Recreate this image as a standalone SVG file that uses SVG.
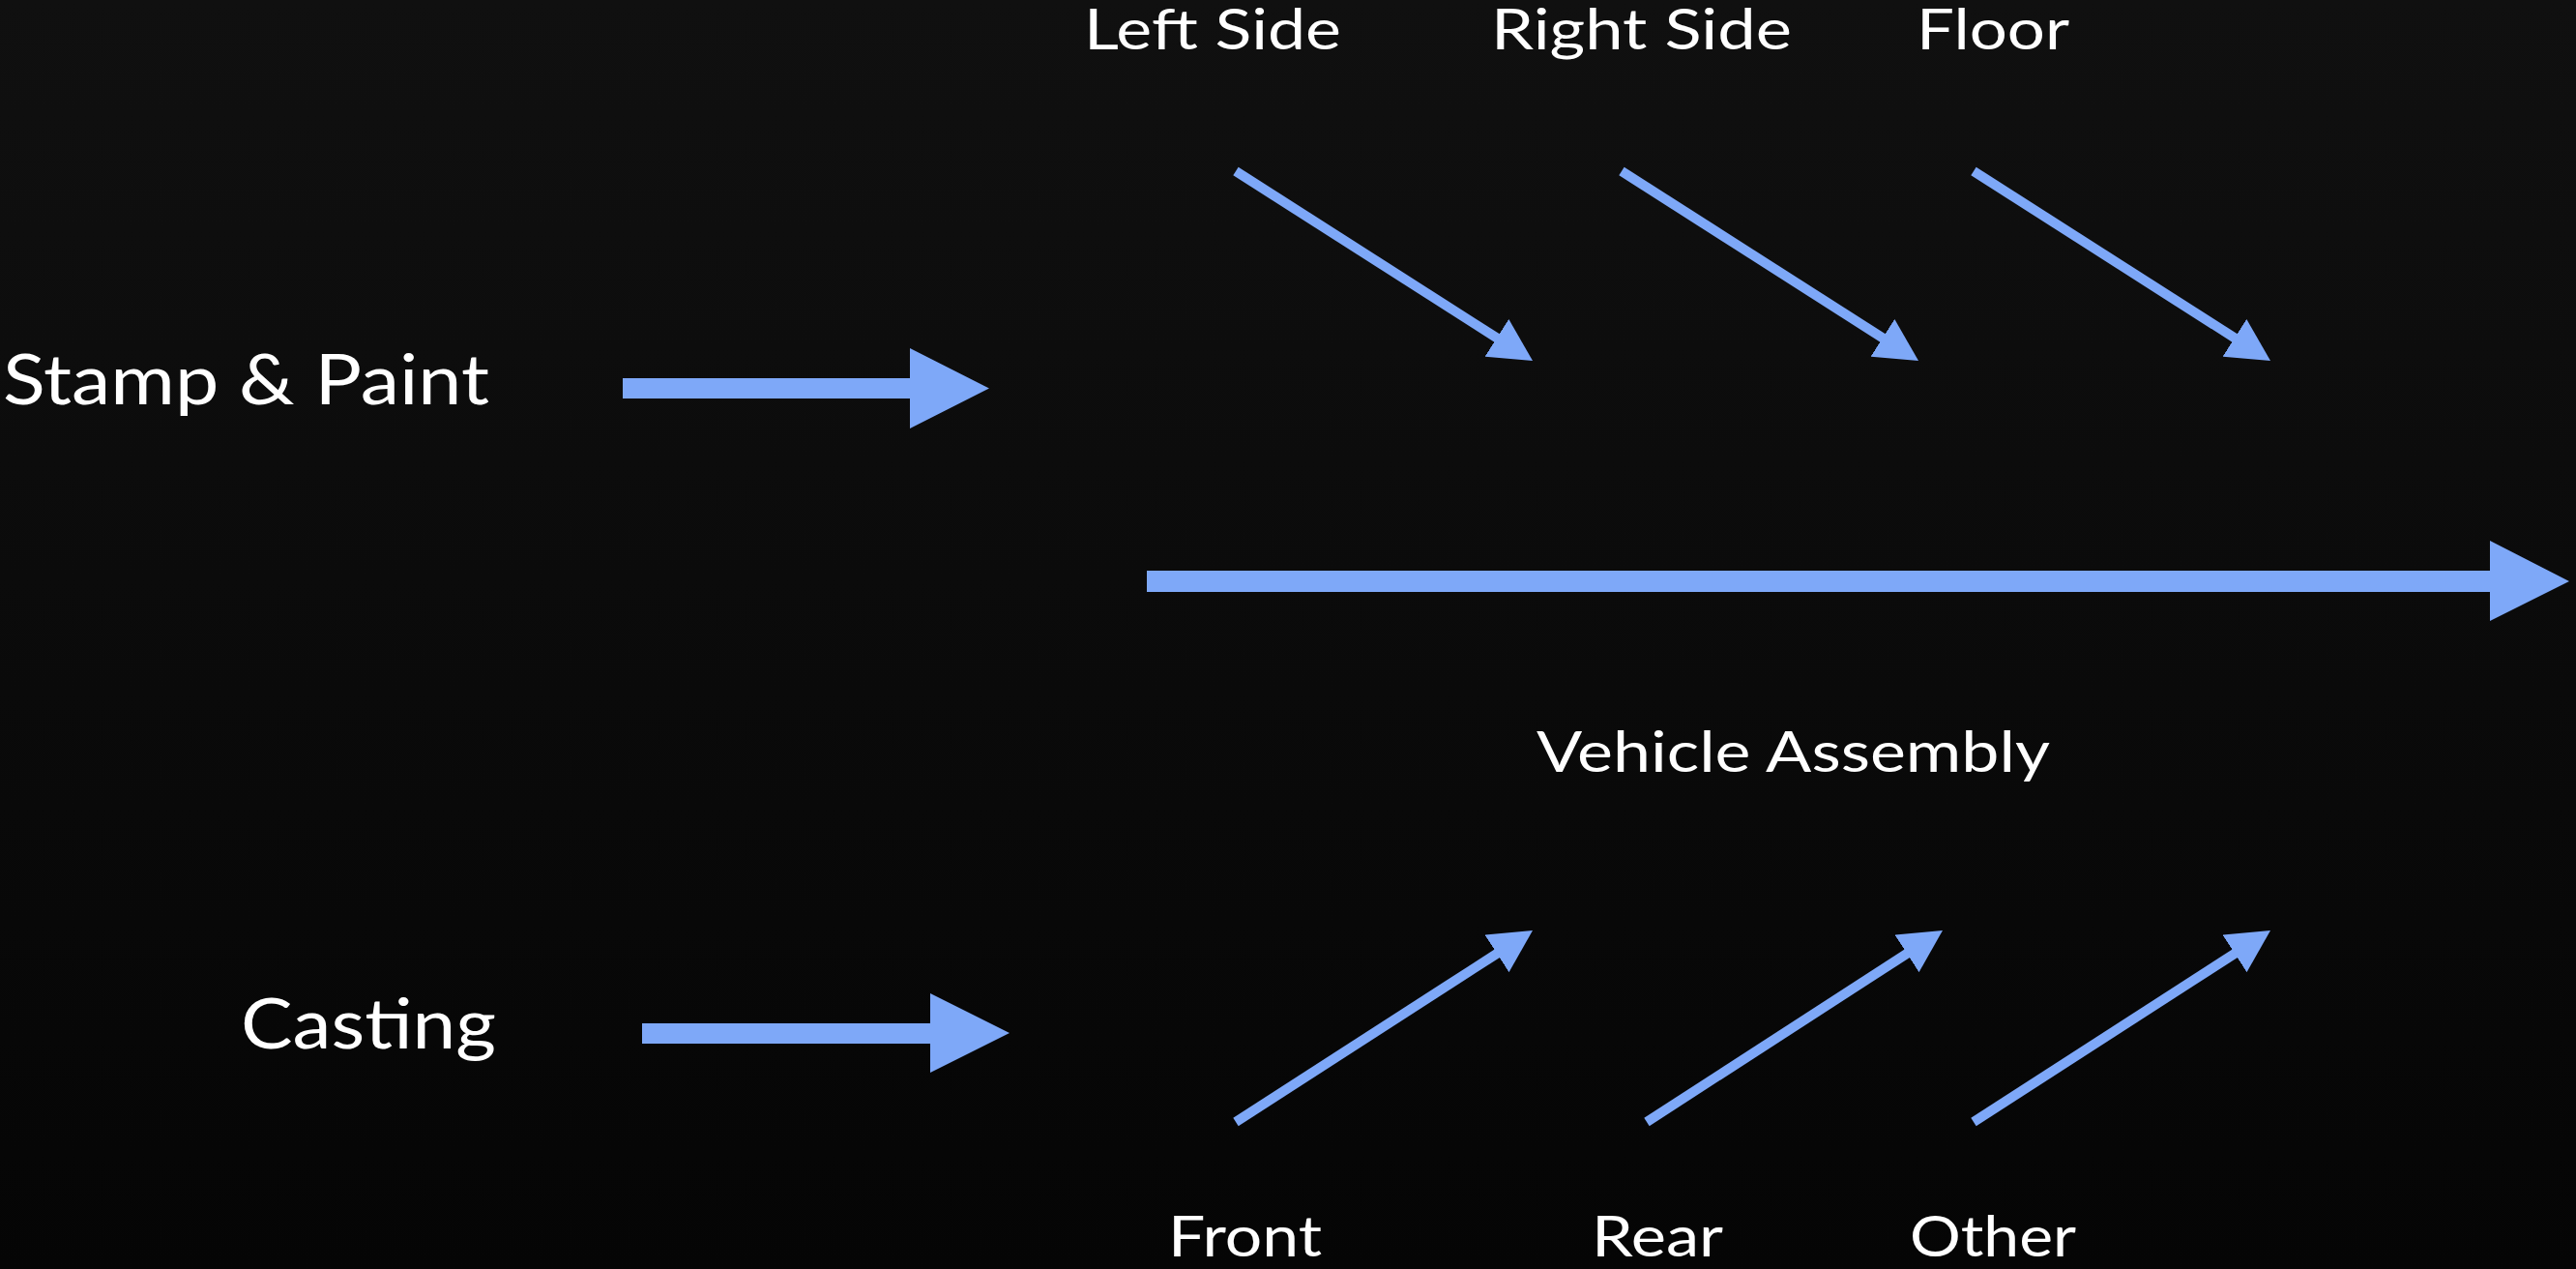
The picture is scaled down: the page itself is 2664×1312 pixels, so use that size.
<svg xmlns="http://www.w3.org/2000/svg" width="2664" height="1312" viewBox="0 0 2664 1312">
<defs>
<linearGradient id="bg" x1="0" y1="0" x2="0" y2="1">
<stop offset="0" stop-color="#101010"/>
<stop offset="1" stop-color="#050505"/>
</linearGradient>
<marker id="head" markerUnits="userSpaceOnUse" markerWidth="44" markerHeight="46" viewBox="0 0 44 46" refX="4" refY="23" orient="auto">
<path d="M0,0 L44,23 L0,46 z" fill="#7ea8f8"/>
</marker>
<style>
.lbl{font-family:"Lato","Open Sans","Liberation Sans",sans-serif;fill:#ffffff;font-weight:400}
.big{font-size:72px}
.sm{font-size:58px}
.diag{stroke:#7ea8f8;stroke-width:10;fill:none;marker-end:url(#head)}
.block{fill:#7ea8f8}
</style>
</defs>
<rect x="0" y="0" width="2664" height="1312" fill="url(#bg)"/>
<g id="connectors">
<polygon class="block" points="644,391 941,391 941,360 1023,401.5 941,443 941,412 644,412"/>
<polygon class="block" points="664,1058 962,1058 962,1027 1044,1068 962,1109 962,1079 664,1079"/>
<polygon class="block" points="1186,590 2575,590 2575,559 2657,601 2575,642 2575,612 1186,612"/>
<line class="diag" x1="1278" y1="177" x2="1551.3" y2="351.5"/>
<line class="diag" x1="1677" y1="177" x2="1950.3" y2="351.5"/>
<line class="diag" x1="2041" y1="177" x2="2314.3" y2="351.5"/>
<line class="diag" x1="1278" y1="1160" x2="1551.4" y2="983.7"/>
<line class="diag" x1="1703" y1="1160" x2="1975.4" y2="983.7"/>
<line class="diag" x1="2041" y1="1160" x2="2314.4" y2="983.7"/>
</g>
<g id="stamp-paint"><text class="lbl big" x="3" y="418" textLength="503" lengthAdjust="spacingAndGlyphs">Stamp &amp; Paint</text></g>
<g id="casting"><text class="lbl big" x="249" y="1084" textLength="264" lengthAdjust="spacingAndGlyphs">Casting</text></g>
<g id="left-side"><text class="lbl sm" x="1121" y="51" textLength="266" lengthAdjust="spacingAndGlyphs">Left Side</text></g>
<g id="right-side"><text class="lbl sm" x="1542" y="51" textLength="311" lengthAdjust="spacingAndGlyphs">Right Side</text></g>
<g id="floor"><text class="lbl sm" x="1982" y="51" textLength="158" lengthAdjust="spacingAndGlyphs">Floor</text></g>
<g id="vehicle-assembly"><text class="lbl sm" x="1589" y="798" textLength="531" lengthAdjust="spacingAndGlyphs">Vehicle Assembly</text></g>
<g id="front"><text class="lbl sm" x="1208" y="1299" textLength="159" lengthAdjust="spacingAndGlyphs">Front</text></g>
<g id="rear"><text class="lbl sm" x="1646" y="1299" textLength="136" lengthAdjust="spacingAndGlyphs">Rear</text></g>
<g id="other"><text class="lbl sm" x="1975" y="1299" textLength="172" lengthAdjust="spacingAndGlyphs">Other</text></g>
</svg>
